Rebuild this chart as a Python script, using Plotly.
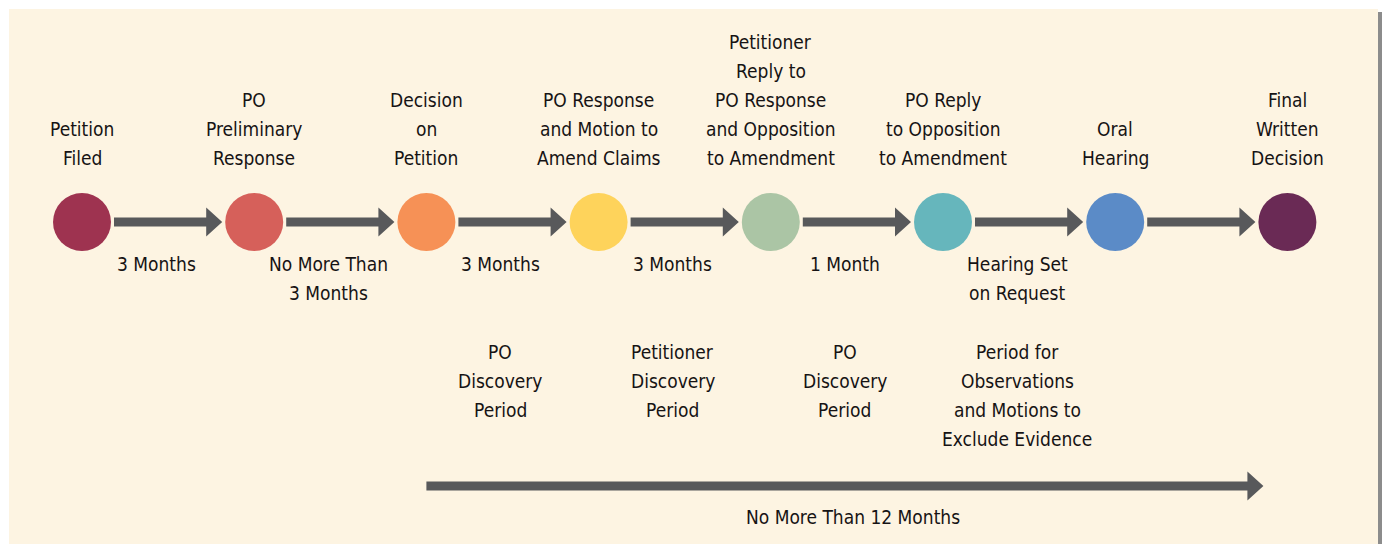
import plotly.graph_objects as go

# ---------------- data ----------------
stages = ["Petition<br>Filed", "PO<br>Preliminary<br>Response", "Decision<br>on<br>Petition",
          "PO Response<br>and Motion to<br>Amend Claims",
          "Petitioner<br>Reply to<br>PO Response<br>and Opposition<br>to Amendment",
          "PO Reply<br>to Opposition<br>to Amendment", "Oral<br>Hearing", "Final<br>Written<br>Decision"]
stage_colors = ["#9e3350", "#d6605a", "#f69156", "#fed35b", "#abc5a5", "#66b6bc", "#5b8bc7", "#6a2a55"]
intervals = ["3 Months", "No More Than<br>3 Months", "3 Months", "3 Months", "1 Month",
             "Hearing Set<br>on Request", ""]
periods = ["", "", "PO<br>Discovery<br>Period", "Petitioner<br>Discovery<br>Period",
           "PO<br>Discovery<br>Period", "Period for<br>Observations<br>and Motions to<br>Exclude Evidence", ""]
overall_label = "No More Than 12 Months"
overall_start, overall_end = 2, 7

# ---------------- styling ----------------
BG = "#fdf4e2"
ARROW = "#58595b"
TXT = "#161314"
FONT = "DejaVu Sans Condensed, Liberation Sans Narrow, sans-serif"
FS = 19
LINE = 28.9                     # line pitch in px
W, H = 1382, 544
X0PX, STEP = 82, 172.2          # pixel of stage 0 and pixels per stage
U = 1.0 / STEP                  # one pixel in stage units
Y_NODE = 222
Y_TOP_LAST = 158
Y_INT_FIRST = 264
Y_PER_FIRST = 352
Y_OVERALL = 486
Y_OVERALL_LBL = 517


def px_paper_x(px):
    return px / W


def px_paper_y(py):
    return 1 - py / H


fig = go.Figure()


def arrow_poly(xs, xt, y, head=16, half_head=14.5, half_shaft=4.5):
    xh = xt - head * U
    return ([xs, xh, xh, xt, xh, xh, xs, xs, None],
            [y - half_shaft, y - half_shaft, y - half_head, y, y + half_head,
             y + half_shaft, y + half_shaft, y - half_shaft, None])


ax, ay = [], []
for i in range(len(stages) - 1):
    px, py = arrow_poly(i + 32 * U, i + 1 - 32 * U, Y_NODE)
    ax += px; ay += py
px, py = arrow_poly(overall_start, overall_end - 24 * U, Y_OVERALL)
ax += px; ay += py
fig.add_trace(go.Scatter(x=ax, y=ay, mode="lines", fill="toself", fillcolor=ARROW,
                         line=dict(width=0, color=ARROW), hoverinfo="skip", showlegend=False))

fig.add_trace(go.Scatter(x=list(range(len(stages))), y=[Y_NODE] * len(stages), mode="markers",
                         marker=dict(size=58, color=stage_colors, line=dict(width=0)),
                         hoverinfo="skip", showlegend=False))

ann = []


def add_block(x, text, y_ref, from_bottom):
    lines = text.split("<br>")
    n = len(lines)
    for k, ln in enumerate(lines):
        y = y_ref - (n - 1 - k) * LINE if from_bottom else y_ref + k * LINE
        ann.append(dict(x=x, y=y, text=ln))


for i, s in enumerate(stages):
    add_block(i, s, Y_TOP_LAST, True)
for i, s in enumerate(intervals):
    if s:
        add_block(i + 0.43, s, Y_INT_FIRST, False)
for i, s in enumerate(periods):
    if s:
        add_block(i + 0.43, s, Y_PER_FIRST, False)
add_block((overall_start + overall_end) / 2 - 0.02, overall_label, Y_OVERALL_LBL, False)
for a in ann:
    a.update(xref="x", yref="y", showarrow=False, xanchor="center", yanchor="middle",
             align="center", font=dict(family=FONT, size=FS, color=TXT))

fig.update_layout(
    width=W, height=H, margin=dict(l=0, r=0, t=0, b=0),
    paper_bgcolor="white", plot_bgcolor="rgba(0,0,0,0)",
    xaxis=dict(range=[-X0PX / STEP, (W - X0PX) / STEP], visible=False, fixedrange=True),
    yaxis=dict(range=[H, 0], visible=False, fixedrange=True),
    annotations=ann,
    shapes=[
        dict(type="rect", xref="paper", yref="paper", x0=px_paper_x(1378), x1=1,
             y0=0, y1=px_paper_y(12), fillcolor="#8c8c8c", line=dict(width=0), layer="below"),
        dict(type="rect", xref="paper", yref="paper", x0=px_paper_x(9), x1=px_paper_x(1378),
             y0=0, y1=px_paper_y(9), fillcolor=BG, line=dict(width=0), layer="below"),
    ],
    showlegend=False,
)

fig.write_html("out.html", config={"displayModeBar": False},
               post_script="document.body.style.margin='0';document.body.style.overflow='hidden';")
